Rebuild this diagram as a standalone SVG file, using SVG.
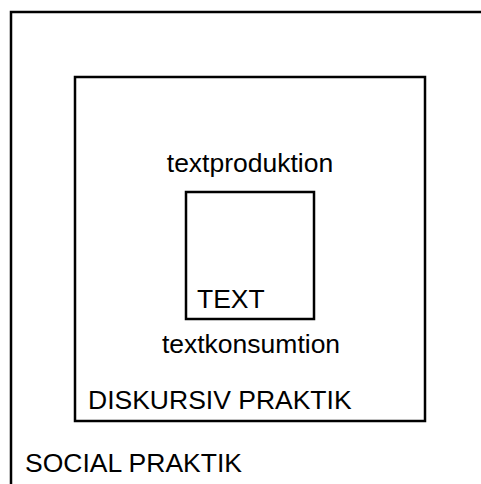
<svg xmlns="http://www.w3.org/2000/svg" width="481" height="484" viewBox="0 0 481 484">
<style>
rect.box{fill:none;stroke:#000;stroke-width:2.5}
text{font-family:"Liberation Sans",Arial,sans-serif;font-size:26.5px;fill:#000}
</style>
<rect width="481" height="484" fill="#fff"/>
<g id="social">
<rect class="box" x="11" y="12" width="480" height="490"/>
<text x="25" y="472">SOCIAL PRAKTIK</text>
</g>
<g id="diskursiv">
<rect class="box" x="75" y="77" width="350" height="344"/>
<text x="88" y="409">DISKURSIV PRAKTIK</text>
<text x="250" y="172" text-anchor="middle">textproduktion</text>
<text x="251" y="353" text-anchor="middle">textkonsumtion</text>
</g>
<g id="text">
<rect class="box" x="186" y="192" width="128" height="127"/>
<text x="197" y="308">TEXT</text>
</g>
<g id="connectors"/>
</svg>
